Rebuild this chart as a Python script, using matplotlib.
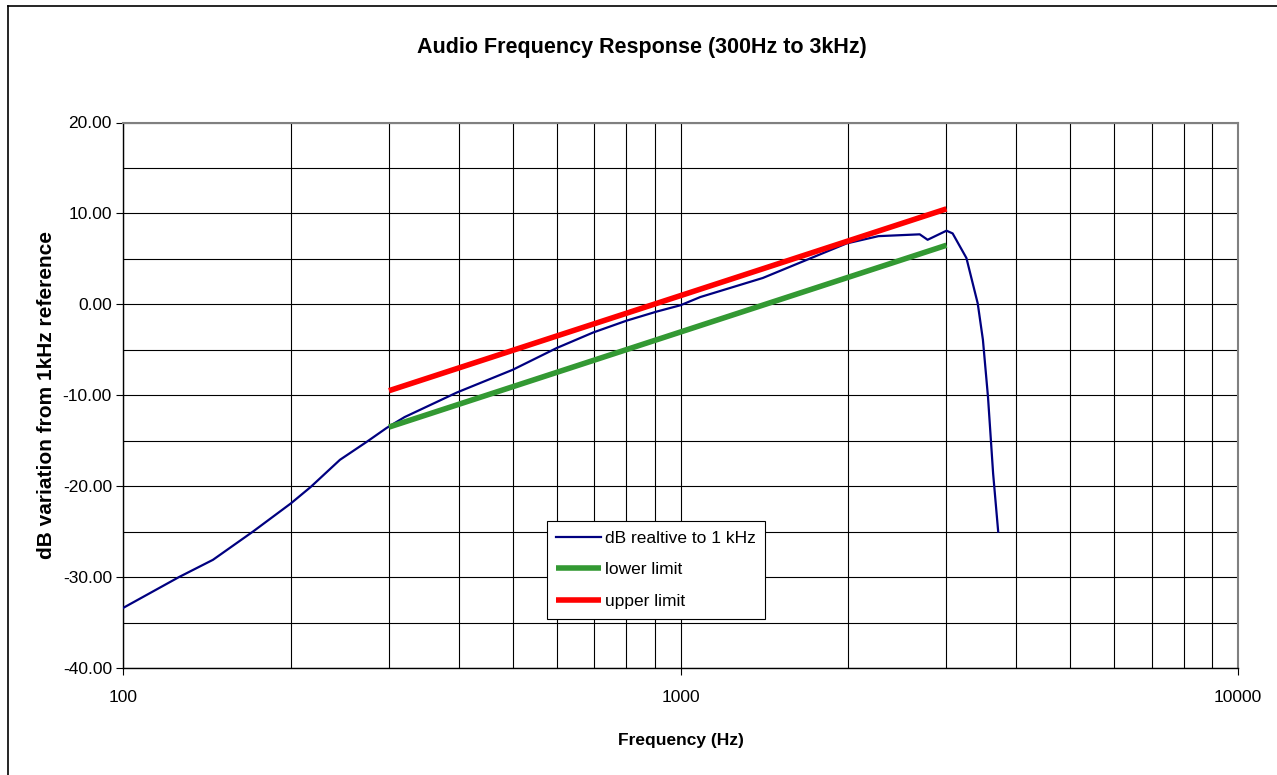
import matplotlib
matplotlib.use('Agg')
import matplotlib.pyplot as plt
from matplotlib.lines import Line2D
from matplotlib.ticker import FixedLocator, FuncFormatter, NullFormatter

plt.rcParams['font.family'] = ['Liberation Sans', 'DejaVu Sans']

# measured response, dB relative to 1 kHz
freq = [100, 126, 145, 171, 200, 217, 245, 274, 297, 320, 397, 500, 600, 697,
        800, 906, 1000, 1085, 1405, 1986, 2265, 2686, 2775, 3000, 3077, 3257,
        3413, 3487, 3561, 3637, 3714]
db = [-33.4, -30.0, -28.1, -25.0, -21.9, -20.1, -17.1, -15.1, -13.6, -12.4, -9.7,
      -7.2, -4.8, -3.1, -1.8, -0.8, -0.1, 0.8, 2.9, 6.7, 7.5, 7.7, 7.1, 8.1, 7.8,
      5.1, 0.1, -3.9, -10.2, -18.6, -25.0]

# tolerance limits
limit_freq = [300, 3000]
lower_db = [-13.5, 6.5]
upper_db = [-9.5, 10.5]

fig = plt.figure(figsize=(12.77, 7.75), dpi=100)
ax = fig.add_axes([123 / 1277, 1 - 668 / 775, (1238 - 123) / 1277, (668 - 122.5) / 775])

ax.plot(freq, db, color='#000080', lw=1.6, label='dB realtive to 1 kHz', zorder=3)
ax.plot(limit_freq, lower_db, color='#339933', lw=4, label='lower limit',
        solid_capstyle='butt', zorder=3)
ax.plot(limit_freq, upper_db, color='#ff0000', lw=4, label='upper limit',
        solid_capstyle='butt', zorder=3)

ax.set_xscale('log')
ax.set_xlim(100, 10000)
ax.set_ylim(-40, 20)

# gridlines every decade sub-step and every 5 dB
ax.xaxis.set_major_locator(FixedLocator([100, 1000, 10000]))
ax.xaxis.set_minor_locator(FixedLocator([m * d for d in (100, 1000) for m in range(2, 10)]))
ax.xaxis.set_minor_formatter(NullFormatter())
ax.xaxis.set_major_formatter(FuncFormatter(lambda v, p: '%d' % v))
ax.yaxis.set_major_locator(FixedLocator(range(-40, 21, 10)))
ax.yaxis.set_minor_locator(FixedLocator(range(-35, 20, 10)))
ax.yaxis.set_major_formatter(FuncFormatter(lambda v, p: '%.2f' % v))
ax.grid(True, which='both', color='black', lw=0.8)
ax.set_axisbelow(True)

ax.tick_params(axis='both', which='major', direction='out', length=5, width=0.8,
               labelsize=12.5, color='black')
ax.tick_params(axis='both', which='minor', length=0)
ax.tick_params(axis='x', pad=11)
ax.tick_params(axis='y', pad=3)

for side in ('top', 'right'):
    ax.spines[side].set_color('#808080')
    ax.spines[side].set_linewidth(1.5)
for side in ('left', 'bottom'):
    ax.spines[side].set_color('black')
    ax.spines[side].set_linewidth(1.0)

# title is centred on the whole chart, not on the plot area
fig.text(642 / 1277, 1 - 48 / 775, 'Audio Frequency Response (300Hz to 3kHz)',
         fontsize=15.5, fontweight='bold', ha='center', va='center')
ax.set_xlabel('Frequency (Hz)', fontsize=12.5, fontweight='bold', labelpad=20)
ax.set_ylabel('dB variation from 1kHz reference', fontsize=15,
              fontweight='bold', labelpad=5)

leg = ax.legend(loc='upper left', bbox_to_anchor=(0.380, 0.2695), borderaxespad=0,
                fontsize=12.5, frameon=True, fancybox=False, framealpha=1,
                edgecolor='black', handlelength=2.6, handletextpad=0.2,
                labelspacing=0.95, borderpad=0.55)
leg.get_frame().set_linewidth(0.8)

# outer chart border
fig.add_artist(Line2D([8 / 1277, 8 / 1277], [0, 1 - 6 / 775], color='black', lw=1.2))
fig.add_artist(Line2D([8 / 1277, 1], [1 - 6 / 775, 1 - 6 / 775], color='black', lw=1.2))

fig.savefig('out.png', dpi=100, facecolor='white')
